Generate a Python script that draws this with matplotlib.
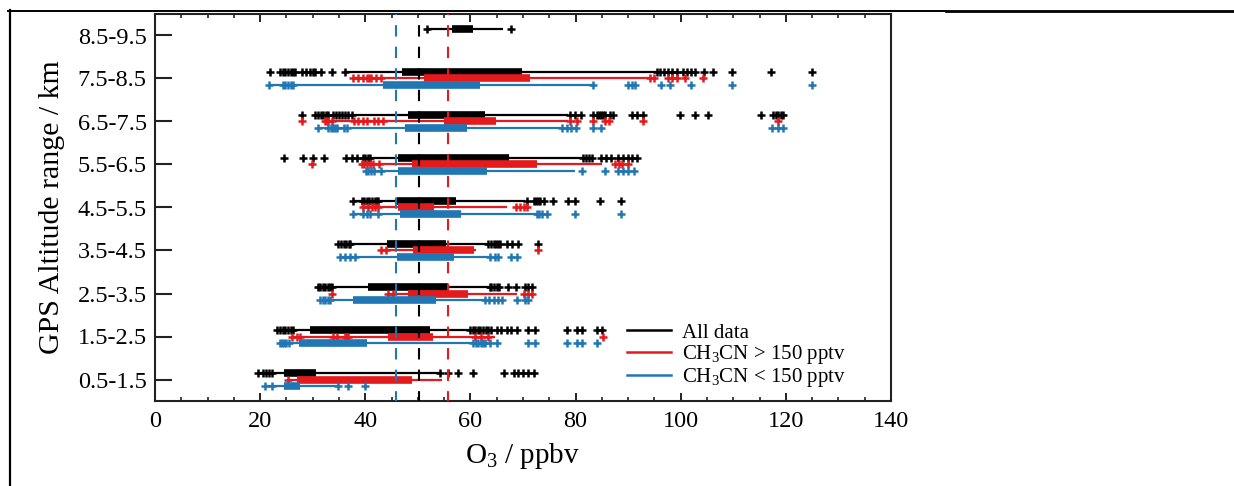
import matplotlib
matplotlib.use("Agg")
import matplotlib.pyplot as plt
from matplotlib.lines import Line2D
from matplotlib.ticker import MultipleLocator

plt.rcParams["font.family"] = ["Liberation Serif", "DejaVu Serif"]
plt.rcParams["mathtext.fontset"] = "custom"
plt.rcParams["mathtext.rm"] = "Liberation Serif"
plt.rcParams["mathtext.it"] = "Liberation Serif:italic"
plt.rcParams["lines.scale_dashes"] = False

# Altitude bins (bottom to top)
altitude_bins = ["0.5-1.5", "1.5-2.5", "2.5-3.5", "3.5-4.5", "4.5-5.5",
                 "5.5-6.5", "6.5-7.5", "7.5-8.5", "8.5-9.5"]

# ---- All data ----
all_lo = [19.6, 23.3, 31.1, 34.9, 37.7, 39.6, 33.8, 36.1, 51.7]
all_q1 = [24.5, 29.5, 40.6, 44.1, 46.0, 46.3, 48.2, 47.0, 56.4]
all_q3 = [30.6, 52.3, 55.8, 55.4, 57.3, 67.4, 62.8, 69.8, 60.5]
all_hi = [54.2, 59.9, 63.7, 63.4, 70.4, 81.5, 78.6, 95.4, 66.2]
all_out = [
    [19.6, 20.6, 21.2, 21.7, 22.2, 54.2, 55.8, 57.7, 60.5, 66.3, 68.2, 69.1, 70.0, 71.0, 72.0],
    [23.3, 23.8, 24.3, 24.8, 25.3, 25.8, 26.3, 59.9, 60.4, 60.9, 61.4, 61.9, 62.4, 62.9, 63.4,
     64.0, 65.0, 65.9, 66.9, 67.8, 68.8, 71.0, 72.3, 78.3, 80.2, 81.2, 84.0, 85.0],
    [31.1, 31.4, 31.9, 32.4, 32.9, 33.3, 33.6, 63.7, 64.0, 64.5, 65.0, 65.5, 67.2, 68.7, 70.4,
     71.0, 71.7],
    [34.9, 35.4, 35.9, 36.4, 36.9, 37.1, 63.4, 63.9, 64.4, 64.9, 65.3, 65.6, 66.9, 68.0, 69.1, 72.9],
    [37.7, 39.3, 39.8, 40.3, 40.8, 41.3, 41.8, 42.2, 42.5, 70.7, 72.1, 72.5, 72.9, 73.2, 74.0,
     75.8, 78.6, 79.9, 84.7, 88.6],
    [24.6, 28.2, 30.0, 32.2, 36.4, 37.4, 38.5, 39.6, 40.0, 40.5, 40.9, 81.5, 82.0, 82.6, 83.2,
     84.8, 85.8, 86.8, 88.1, 89.1, 89.9, 90.8, 91.7],
    [27.9, 30.4, 31.0, 31.5, 32.0, 32.5, 32.9, 33.8, 34.4, 35.0, 35.6, 36.2, 36.8, 37.4, 78.9,
     79.9, 81.0, 83.3, 84.0, 84.4, 84.8, 85.2, 85.6, 86.6, 87.1, 90.7, 91.6, 92.8, 99.9, 102.7,
     105.1, 115.2, 117.6, 118.2, 118.6, 119.0, 119.5],
    [21.9, 23.8, 24.3, 24.8, 25.3, 25.8, 26.3, 26.6, 27.9, 28.8, 29.5, 30.0, 30.4, 31.5, 33.6,
     36.1, 95.4, 96.1, 96.8, 97.5, 98.3, 99.3, 100.5, 101.2, 101.9, 102.7, 104.4, 106.1, 109.7,
     117.1, 124.9],
    [51.7, 67.7],
]

# ---- CH3CN > 150 pptv ----
high_lo = [25.3, 26.0, 44.4, 42.9, 39.6, 39.3, 32.3, 37.7, None]
high_q1 = [27.0, 44.4, 48.2, 49.0, 46.3, 48.9, 55.0, 51.2, None]
high_q3 = [48.8, 52.9, 59.6, 60.7, 53.1, 72.6, 64.9, 71.3, None]
high_hi = [54.5, 64.7, 68.8, 61.0, 66.9, 85.0, 78.6, 94.2, None]
high_out = [
    [25.3],
    [26.0, 27.0, 27.6, 33.9, 34.6, 36.1, 36.4, 36.7, 60.9, 62.1, 63.4, 85.3],
    [33.6, 44.4, 45.3, 70.1, 71.0, 71.7],
    [42.9, 43.9, 72.9],
    [39.6, 40.6, 41.2, 41.8, 42.5, 68.7, 69.4, 70.1, 70.8],
    [29.9, 39.3, 39.8, 40.3, 40.9, 41.5, 42.7, 87.5, 88.3, 88.8, 90.0],
    [28.0, 32.3, 32.7, 33.0, 33.6, 37.9, 38.7, 39.6, 40.3, 41.7, 42.5, 43.4, 78.9, 80.2, 83.4,
     85.6, 86.4, 92.8, 118.6],
    [37.7, 38.7, 39.6, 40.3, 40.7, 41.0, 42.0, 42.9, 94.2, 94.9, 97.6, 98.3, 99.3, 100.8, 104.2],
    [],
]

# ---- CH3CN < 150 pptv ----
low_lo = [21.0, 23.8, 31.4, 35.2, 37.7, 40.1, 31.1, 21.7, None]
low_q1 = [24.5, 27.3, 37.6, 46.1, 46.6, 46.3, 47.6, 43.4, None]
low_q3 = [27.6, 40.4, 53.5, 56.8, 58.3, 63.1, 59.3, 61.8, None]
low_hi = [34.8, 60.5, 62.8, 63.7, 72.6, 79.9, 77.4, 83.4, None]
low_out = [
    [21.0, 22.2, 34.8, 36.8, 39.9],
    [23.8, 24.2, 24.6, 25.0, 25.5, 60.5, 61.0, 61.5, 62.0, 62.4, 62.8, 63.7, 65.0, 71.0, 72.3,
     78.3, 80.2, 81.2, 84.0],
    [31.4, 31.9, 32.4, 32.9, 33.3, 62.8, 63.6, 64.5, 65.3, 66.1, 68.8, 70.4, 71.0],
    [35.2, 36.1, 37.1, 38.0, 63.7, 64.7, 65.3, 67.8, 68.8],
    [37.7, 39.5, 40.3, 40.9, 42.5, 72.6, 73.1, 73.6, 74.5, 79.9, 88.6],
    [40.1, 40.6, 41.1, 41.7, 43.0, 81.2, 85.6, 88.0, 89.1, 90.0, 91.2],
    [31.1, 33.0, 33.4, 33.8, 34.2, 34.6, 36.0, 36.6, 77.4, 78.3, 79.1, 80.1, 83.3, 84.8, 117.3,
     118.6, 119.5],
    [21.7, 24.3, 24.8, 25.3, 25.8, 26.3, 83.4, 90.0, 90.7, 91.3, 96.2, 97.9, 101.9, 109.7, 124.9],
    [],
]

# Reference O3 levels (dashed verticals)
ref_all, ref_high, ref_low = 50.2, 55.8, 45.9

series_labels = ["All data", "CH$_3$CN > 150 pptv", "CH$_3$CN < 150 pptv"]
colors = ["#000000", "#e41a1c", "#2077b4"]
offsets = [0.15, 0.0, -0.15]

fig = plt.figure(figsize=(12.34, 4.86), dpi=100)
ax = fig.add_axes([155 / 1234, 85 / 486, 736 / 1234, 387 / 486])

series = [
    (all_lo, all_q1, all_q3, all_hi, all_out),
    (high_lo, high_q1, high_q3, high_hi, high_out),
    (low_lo, low_q1, low_q3, low_hi, low_out),
]

for (lo, q1, q3, hi, out), col, off, lab in zip(series, colors, offsets, series_labels):
    for i in range(len(altitude_bins)):
        if lo[i] is None:
            continue
        y = i + off
        ax.hlines(y, lo[i], hi[i], color=col, lw=1.6, zorder=2)
        ax.hlines(y, q1[i], q3[i], color=col, lw=5.5, zorder=2)
        if out[i]:
            ax.plot(out[i], [y] * len(out[i]), ls="none", marker="+", ms=6,
                    mew=1.8, color=col, zorder=2)
    ax.plot([], [], color=col, lw=1.8, label=lab)

dash = (1.1, (8.2, 7.3))
ax.axvline(ref_low, color=colors[2], lw=1.5, ls=dash, zorder=3)
ax.axvline(ref_all, color=colors[0], lw=1.5, ls=dash, zorder=3)
ax.axvline(ref_high, color=colors[1], lw=1.5, ls=dash, zorder=3)

ax.set_xlim(0, 140)
ax.set_ylim(-0.5, 8.5)
ax.set_yticks(range(len(altitude_bins)))
ax.set_yticklabels(altitude_bins)
ax.xaxis.set_major_locator(MultipleLocator(20))
ax.xaxis.set_minor_locator(MultipleLocator(5))

for s in ax.spines.values():
    s.set_linewidth(1.5)
    s.set_color("#222222")

ax.tick_params(axis="x", which="major", direction="in", length=6, width=1.4,
               top=True, labelsize=17.5, pad=7, color="#222222")
ax.tick_params(axis="x", which="minor", direction="in", length=3, width=1.2,
               top=True, color="#222222")
ax.tick_params(axis="y", which="major", direction="in", length=12, width=1.5,
               right=False, labelsize=17.5, pad=6, color="#222222")

ax.set_xlabel("O$_3$ / ppbv", fontsize=21, labelpad=7)
ax.set_ylabel("GPS Altitude range / km", fontsize=21.5, labelpad=9)

ax.legend(loc="lower left", bbox_to_anchor=(0.641, 0.03), frameon=False,
          fontsize=15, handlelength=2.1, handletextpad=0.55, labelspacing=0.02,
          borderpad=0, borderaxespad=0)

# Surrounding frame lines
fig.add_artist(Line2D([9.5 / 1234, 9.5 / 1234], [0, 475.8 / 486], color="black",
                      lw=1.6, transform=fig.transFigure))
fig.add_artist(Line2D([8 / 1234, 946 / 1234], [475.2 / 486, 475.2 / 486], color="black",
                      lw=1.4, transform=fig.transFigure))
fig.add_artist(Line2D([946 / 1234, 1.0], [474.9 / 486, 474.9 / 486], color="black",
                      lw=2.0, transform=fig.transFigure))

fig.savefig("out.png", dpi=100)
